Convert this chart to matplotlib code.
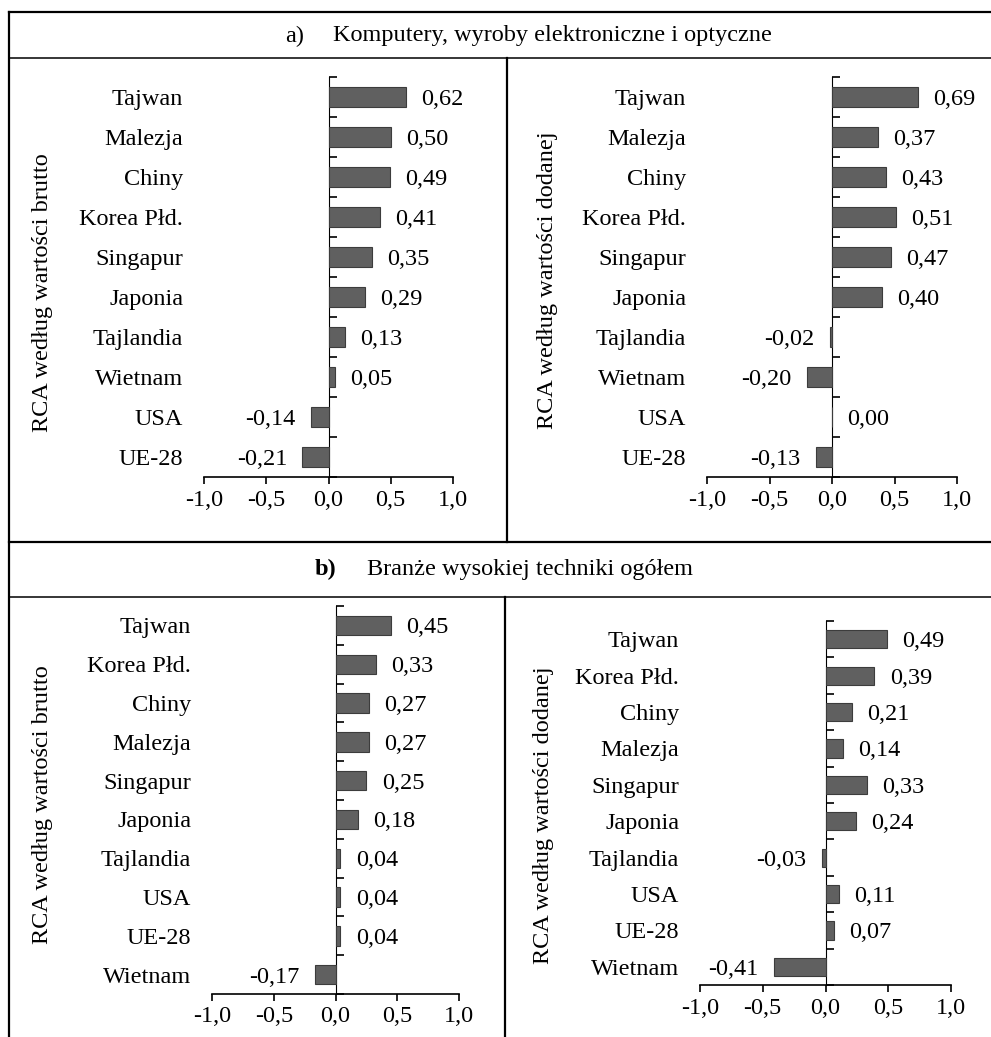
import matplotlib
matplotlib.use("Agg")
import matplotlib.pyplot as plt
from matplotlib.lines import Line2D

plt.rcParams['font.family'] = ['Liberation Serif', 'DejaVu Serif']
plt.rcParams['font.size'] = 17.5

# dane
kraje_a = ['Tajwan', 'Malezja', 'Chiny', 'Korea Płd.', 'Singapur', 'Japonia',
           'Tajlandia', 'Wietnam', 'USA', 'UE-28']
brutto_a = [0.62, 0.50, 0.49, 0.41, 0.35, 0.29, 0.13, 0.05, -0.14, -0.21]
dodana_a = [0.69, 0.37, 0.43, 0.51, 0.47, 0.40, -0.02, -0.20, 0.00, -0.13]

kraje_b = ['Tajwan', 'Korea Płd.', 'Chiny', 'Malezja', 'Singapur', 'Japonia',
           'Tajlandia', 'USA', 'UE-28', 'Wietnam']
brutto_b = [0.45, 0.33, 0.27, 0.27, 0.25, 0.18, 0.04, 0.04, 0.04, -0.17]
dodana_b = [0.49, 0.39, 0.21, 0.14, 0.33, 0.24, -0.03, 0.11, 0.07, -0.41]

xticks = [-1.0, -0.5, 0.0, 0.5, 1.0]
xlabels = ['-1,0', '-0,5', '0,0', '0,5', '1,0']

W, H = 991, 1037
fig = plt.figure(figsize=(W / 100, H / 100), dpi=100)


def rect(x0, y0, x1, y1):
    return [x0 / W, 1 - y1 / H, (x1 - x0) / W, (y1 - y0) / H]


def line(x0, y0, x1, y1, lw=1.3):
    fig.add_artist(Line2D([x0 / W, x1 / W], [1 - y0 / H, 1 - y1 / H],
                          transform=fig.transFigure, color='black', lw=lw))


def panel(box, kraje, vals, ylab, ylab_pos):
    ax = fig.add_axes(rect(*box))
    n = len(kraje)
    pos = list(range(n))
    ax.barh(pos, vals, height=0.5, color='#606060', edgecolor='#3c3c3c', lw=0.8)
    ax.set_xlim(-1, 1)
    ax.set_ylim(n - 0.5, -0.5)
    for s in ['top', 'right', 'left']:
        ax.spines[s].set_visible(False)
    ax.spines['bottom'].set_linewidth(1.2)
    ax.set_xticks(xticks, xlabels)
    ax.tick_params(axis='x', direction='out', length=5, width=1.2, pad=4)
    ax.set_yticks(pos, kraje)
    ax.tick_params(axis='y', length=0, pad=15)
    for lab in ax.get_yticklabels():
        lab.set_horizontalalignment('right')
    # os przy zerze z podzialka miedzy kategoriami
    sec = ax.secondary_yaxis(0.5)
    sec.set_yticks([i - 0.5 for i in range(n + 1)], [''] * (n + 1))
    sec.spines['left'].set_linewidth(1.2)
    sec.tick_params(direction='out', length=5.5, width=1.2)
    for i, v in enumerate(vals):
        txt = f'{v:.2f}'.replace('.', ',')
        if v < 0:
            ax.annotate(txt, (v, i), xytext=(-11, 0), textcoords='offset points',
                        ha='right', va='center_baseline')
        else:
            ax.annotate(txt, (v, i), xytext=(11, 0), textcoords='offset points',
                        ha='left', va='center_baseline')
    fig.text(ylab_pos[0] / W, 1 - ylab_pos[1] / H, ylab, rotation=90,
             ha='center', va='center')
    return ax


panel((204, 77, 453, 477), kraje_a, brutto_a,
      'RCA według wartości brutto', (43, 293))
panel((707, 77, 957, 477), kraje_a, dodana_a,
      'RCA według wartości dodanej', (548, 280))
panel((212, 606, 459, 994), kraje_b, brutto_b,
      'RCA według wartości brutto', (43, 805))
panel((700, 621, 951, 985), kraje_b, dodana_b,
      'RCA według wartości dodanej', (544, 815))

# ramka tabeli
line(9, 12, 991, 12, lw=1.6)
line(9, 12, 9, 1037, lw=1.6)
line(9, 58, 991, 58, lw=1.1)
line(507, 58, 507, 542, lw=1.6)
line(9, 542, 991, 542, lw=1.6)
line(9, 597, 991, 597, lw=1.1)
line(505, 597, 505, 1037, lw=1.6)

fig.text(285 / W, 1 - 36 / H, 'a)', ha='left', va='center')
fig.text(333 / W, 1 - 36 / H, 'Komputery, wyroby elektroniczne i optyczne',
         ha='left', va='center')
fig.text(315 / W, 1 - 569 / H, 'b)', ha='left', va='center', fontweight='bold')
fig.text(367 / W, 1 - 569 / H, 'Branże wysokiej techniki ogółem',
         ha='left', va='center')

fig.savefig('out.png', dpi=100)
